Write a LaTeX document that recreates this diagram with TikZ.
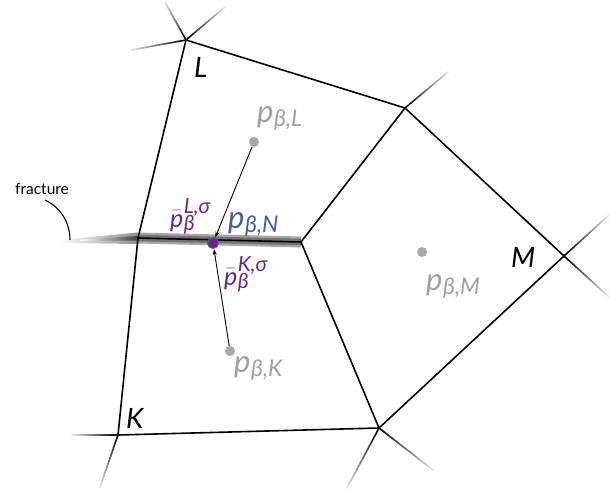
\documentclass[tikz,border=0pt]{standalone}
\usepackage{fontspec}
\setmainfont{Lato}
\usepackage{amsmath}
\usetikzlibrary{calc,arrows.meta}
\definecolor{lgray}{HTML}{A0A0A0}
\definecolor{dotgray}{HTML}{A8A8A8}
\definecolor{purp}{HTML}{6B2482}
\definecolor{blu}{HTML}{3F5F9F}
\definecolor{ring}{HTML}{5858A8}
\newcommand\plab[1]{{\fontsize{31}{31}\selectfont\itshape p}\kern0.5pt\raisebox{-4pt}{\fontsize{23}{23}\selectfont\itshape β,#1}}
\newcommand\pbarlab[1]{{\fontsize{25}{25}\selectfont$\bar{\text{\itshape p}}$}\kern0.5pt\rlap{\raisebox{14pt}{\fontsize{21}{21}\selectfont\itshape #1,σ}}\raisebox{-3pt}{\fontsize{21}{21}\selectfont\itshape β}}
\newcommand\fadeline[2]{%
  \foreach \i in {0,...,19}{%
    \pgfmathsetmacro\pa{\i/20}\pgfmathsetmacro\pb{(\i+1)/20}\pgfmathsetmacro\pc{100-4.6*\i}%
    \draw[edge, draw=black!\pc] ($(#1)!\pa!(#2)$) -- ($(#1)!\pb!(#2)$);}}
\begin{document}
\begin{tikzpicture}[x=1pt,y=-1pt,
  edge/.style={line width=1.6pt, line cap=round},
  lab/.style={inner sep=0pt, anchor=base west},
  vlab/.style={font=\fontsize{28}{30}\selectfont\itshape, inner sep=0pt, anchor=base west},
  dotnode/.style={circle, fill=dotgray, inner sep=0pt, minimum size=10pt},
  flux/.style={line width=0.9pt, -{Stealth[length=6pt,width=4pt]}}]
\useasboundingbox (0,0) rectangle (609,494);
% vertices
\coordinate (vL) at (186,40);
\coordinate (vTR) at (405,108);
\coordinate (vF) at (301,242);
\coordinate (vFL) at (138,238);
\coordinate (vK) at (118,435);
\coordinate (vBR) at (379,428);
\coordinate (vR) at (564,256);
% stub ends
\coordinate (sL1) at (165,2);
\coordinate (sL2) at (225,7);
\coordinate (sL3) at (131,50);
\coordinate (sTR) at (448,72);
\coordinate (sR1) at (609,215);
\coordinate (sR2) at (609,297);
\coordinate (sK1) at (72,435);
\coordinate (sK2) at (100,487);
\coordinate (sBR1) at (347,488);
\coordinate (sBR2) at (433,470);
\coordinate (fE) at (60,240);
% fracture band
\shade[left color=white, right color=black!45] (fE) -- (138,232.5) -- (138,244) -- (60,243) -- cycle;
\shade[left color=white, right color=black!75] (80,239.5) -- (138,236) -- (138,240.5) -- (80,241) -- cycle;
\draw[line width=11pt, black!35] (vFL) -- (vF);
\draw[line width=6.5pt, black!55] (vFL) -- (vF);
\draw[edge] (vFL) -- (vF);
% edges
\draw[edge] (vL) -- (vFL) -- (vK);
\draw[edge] (vL) -- (vTR);
\draw[edge] (vTR) -- (vF);
\draw[edge] (vTR) -- (vR);
\draw[edge] (vF) -- (vBR);
\draw[edge] (vK) -- (vBR);
\draw[edge] (vBR) -- (vR);
% fading stubs
\fadeline{vL}{sL1}
\fadeline{vL}{sL2}
\fadeline{vL}{sL3}
\fadeline{vTR}{sTR}
\fadeline{vR}{sR1}
\fadeline{vR}{sR2}
\fadeline{vK}{sK1}
\fadeline{vK}{sK2}
\fadeline{vBR}{sBR1}
\fadeline{vBR}{sBR2}
% fracture label
\node[font=\fontsize{15.5}{17}\selectfont, inner sep=0pt, anchor=base] (fr) at (42,194) {fracture};
\draw[line width=1.1pt] (45,200) .. controls (60,207) and (70,222) .. (70,240);
% cell centers
\node[dotnode] (pL) at (254,142) {};
\node[dotnode] (pM) at (422,252) {};
\node[dotnode] (pK) at (230,351) {};
\node[circle, fill=purp, draw=ring, line width=1pt, inner sep=0pt, minimum size=11pt] (pN) at (213,243) {};
\draw[flux] (pL) -- (pN);
\draw[flux] (pK) -- (pN);
% labels
\node[lab, text=lgray] (tL) at (257,123) {\plab{L}};
\node[lab, text=lgray] (tM) at (426,290) {\plab{M}};
\node[lab, text=lgray] (tK) at (234,372) {\plab{K}};
\node[lab, text=blu] (tN) at (228,228) {\plab{N}};
\node[lab, text=purp] (tLs) at (170,227) {\pbarlab{L}};
\node[lab, text=purp] (tKs) at (224,285) {\pbarlab{K}};
\node[vlab] (cL) at (194,78) {L};
\node[vlab] (cK) at (126,428) {K};
\node[vlab] (cM) at (511,267) {M};
\end{tikzpicture}
\end{document}
